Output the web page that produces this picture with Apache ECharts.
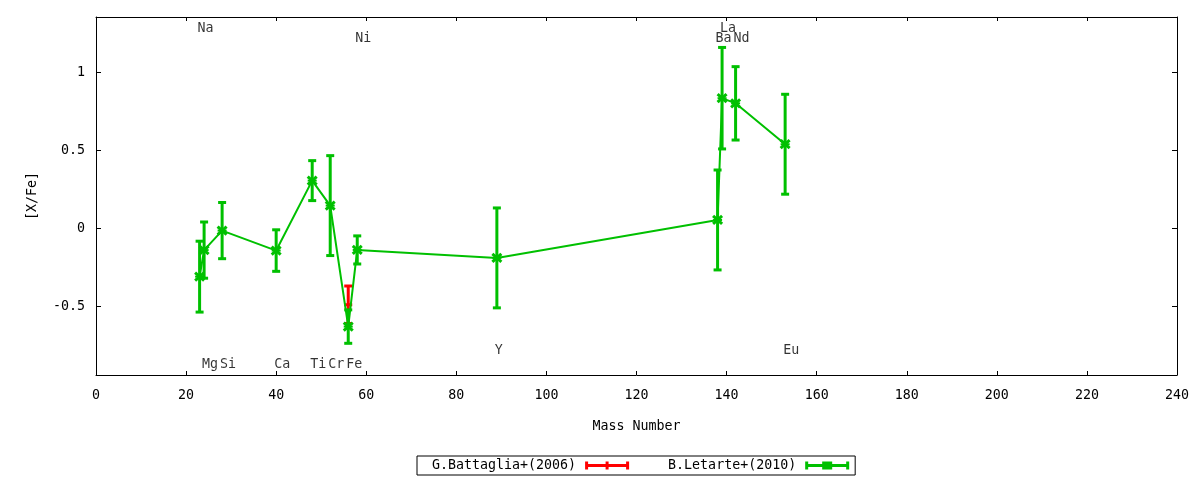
<!DOCTYPE html>
<html>
<head>
<meta charset="utf-8">
<script src="https://cdn.jsdelivr.net/npm/echarts@6/dist/echarts.min.js"></script>
<style>
html,body{margin:0;padding:0;background:#fff;}
#chart{width:1200px;height:480px;}
</style>
</head>
<body>
<div id="chart"></div>
<script>
// ---- data ----
const elements     = ['Na','Mg','Si','Ca','Ti','Cr','Fe','Ni','Y','Ba','La','Nd','Eu'];
const elementMass  = [23, 24, 28, 40, 48, 52, 56, 58, 89, 138, 139, 142, 153];
const labelY       = [1.277, -0.875, -0.875, -0.875, -0.875, -0.875, -0.875, 1.213, -0.786, 1.213, 1.277, 1.213, -0.786];

const letarteMass  = [23, 24, 28, 40, 48, 52, 56, 58, 89, 138, 139, 142, 153];
const letarteValue = [-0.31, -0.14, -0.015, -0.143, 0.305, 0.145, -0.63, -0.139, -0.19, 0.053, 0.833, 0.80, 0.538];
const letarteError = [0.227, 0.18, 0.18, 0.133, 0.128, 0.32, 0.107, 0.09, 0.32, 0.32, 0.325, 0.235, 0.32];

const battagliaMass  = [56];
const battagliaValue = [-0.49];
const battagliaError = [0.12];

const yTicks = [-0.5, 0, 0.5, 1];
const seriesNames = ['G.Battaglia+(2006)', 'B.Letarte+(2010)'];

// ---- chart ----
const FONT = 'DejaVu Sans Mono';
const FS = 13.3;
const RED = '#ff0000';
const GREEN = '#00c000';

function errData(m, v, e) { return m.map((x, i) => [x, v[i], e[i]]); }

function makeRender(markerType) {
  return function (params, api) {
    const x = api.value(0), y = api.value(1), e = api.value(2);
    const c = api.coord([x, y]);
    const t = api.coord([x, y + e]);
    const b = api.coord([x, y - e]);
    const color = api.visual('color');
    const children = [
      { type: 'line', shape: { x1: c[0], y1: t[1], x2: c[0], y2: b[1] }, style: { stroke: color, lineWidth: 3 } },
      { type: 'rect', shape: { x: c[0] - 4, y: t[1] - 1.5, width: 8, height: 3 }, style: { fill: color } },
      { type: 'rect', shape: { x: c[0] - 4, y: b[1] - 1.5, width: 8, height: 3 }, style: { fill: color } }
    ];
    if (markerType === 'x') {
      children.push(
        { type: 'line', shape: { x1: c[0] - 4.5, y1: c[1] - 4, x2: c[0] + 4.5, y2: c[1] + 4 }, style: { stroke: color, lineWidth: 3 } },
        { type: 'line', shape: { x1: c[0] - 4.5, y1: c[1] + 4, x2: c[0] + 4.5, y2: c[1] - 4 }, style: { stroke: color, lineWidth: 3 } },
        { type: 'line', shape: { x1: c[0] - 4.5, y1: c[1], x2: c[0] + 4.5, y2: c[1] }, style: { stroke: color, lineWidth: 2 } }
      );
    } else {
      children.push(
        { type: 'line', shape: { x1: c[0] - 4, y1: c[1], x2: c[0] + 4, y2: c[1] }, style: { stroke: color, lineWidth: 3 } }
      );
    }
    return { type: 'group', children };
  };
}

const redIcon = 'path://M0,0H3V8H0Z M41,0H44V8H41Z M0,2.5H44V5.5H0Z M20.5,0H23.5V8H20.5Z';
const greenIcon = 'path://M0,0H3V8H0Z M41,0H44V8H41Z M0,2.5H44V5.5H0Z M17,0H27V8H17Z';

const lineStyleBlack = { color: '#000', width: 1 };

const option = {
  animation: false,
  backgroundColor: '#fff',
  textStyle: { fontFamily: FONT },
  grid: { left: 96, right: 23, top: 17, bottom: 105, containLabel: false },
  legend: {
    left: 417, top: 456,
    orient: 'horizontal',
    align: 'right',
    padding: [3, 6, 3, 15],
    itemGap: 39,
    itemWidth: 44,
    itemHeight: 8,
    borderColor: '#000',
    borderWidth: 1,
    selectedMode: false,
    textStyle: { color: '#000', fontFamily: FONT, fontSize: FS, padding: [0, 4, 0, 0] },
    data: [
      { name: seriesNames[0], icon: redIcon, itemStyle: { color: RED } },
      { name: seriesNames[1], icon: greenIcon, itemStyle: { color: GREEN } }
    ]
  },
  xAxis: [
    {
      type: 'value', position: 'bottom', min: 0, max: 240, interval: 20,
      name: 'Mass Number', nameLocation: 'middle', nameGap: 45,
      nameTextStyle: { color: '#000', fontFamily: FONT, fontSize: FS },
      axisLine: { show: true, onZero: false, lineStyle: lineStyleBlack },
      splitLine: { show: false },
      axisTick: { show: true, inside: true, length: 4, lineStyle: { color: '#000' } },
      axisLabel: { color: '#000', fontFamily: FONT, fontSize: FS, margin: 14 }
    },
    {
      type: 'value', position: 'top', min: 0, max: 240, interval: 20,
      axisLine: { show: true, onZero: false, lineStyle: lineStyleBlack },
      splitLine: { show: false },
      axisTick: { show: true, inside: true, length: 4, lineStyle: { color: '#000' } },
      axisLabel: { show: false }
    }
  ],
  yAxis: [
    {
      type: 'value', position: 'left', min: -0.94, max: 1.353,
      name: '[X/Fe]', nameLocation: 'middle', nameGap: 57,
      nameTextStyle: { color: '#000', fontFamily: FONT, fontSize: FS },
      axisLine: { show: true, onZero: false, lineStyle: lineStyleBlack },
      splitLine: { show: false },
      axisTick: { show: true, inside: true, length: 5, customValues: yTicks, lineStyle: { color: '#000' } },
      axisLabel: { color: '#000', fontFamily: FONT, fontSize: FS, margin: 11, customValues: yTicks, formatter: v => String(v) }
    },
    {
      type: 'value', position: 'right', min: -0.94, max: 1.353,
      axisLine: { show: true, onZero: false, lineStyle: lineStyleBlack },
      splitLine: { show: false },
      axisTick: { show: true, inside: true, length: 5, customValues: yTicks, lineStyle: { color: '#000' } },
      axisLabel: { show: false, customValues: yTicks }
    }
  ],
  series: [
    {
      name: seriesNames[0] + ' line', type: 'line', silent: true, showSymbol: false,
      data: battagliaMass.map((m, i) => [m, battagliaValue[i]]),
      lineStyle: { color: RED, width: 2 }, itemStyle: { color: RED }, z: 2
    },
    {
      name: seriesNames[0], type: 'custom', silent: true,
      itemStyle: { color: RED },
      renderItem: makeRender('plus'),
      encode: { x: 0, y: 1 },
      data: errData(battagliaMass, battagliaValue, battagliaError), z: 3
    },
    {
      name: seriesNames[1] + ' line', type: 'line', silent: true, showSymbol: false,
      data: letarteMass.map((m, i) => [m, letarteValue[i]]),
      lineStyle: { color: GREEN, width: 2 }, itemStyle: { color: GREEN }, z: 4
    },
    {
      name: seriesNames[1], type: 'custom', silent: true,
      itemStyle: { color: GREEN },
      renderItem: makeRender('x'),
      encode: { x: 0, y: 1 },
      data: errData(letarteMass, letarteValue, letarteError), z: 5
    },
    {
      name: 'elements', type: 'scatter', silent: true, symbolSize: 0,
      data: elementMass.map((m, i) => ({ value: [m, labelY[i]], name: elements[i] })),
      label: {
        show: true, position: 'right', distance: 0, offset: [-2, 0],
        formatter: p => p.name, color: '#000', fontFamily: FONT, fontSize: FS
      },
      z: 6
    }
  ]
};

const chart = echarts.init(document.getElementById('chart'), null, { renderer: 'canvas' });
chart.setOption(option);
</script>
</body>
</html>
